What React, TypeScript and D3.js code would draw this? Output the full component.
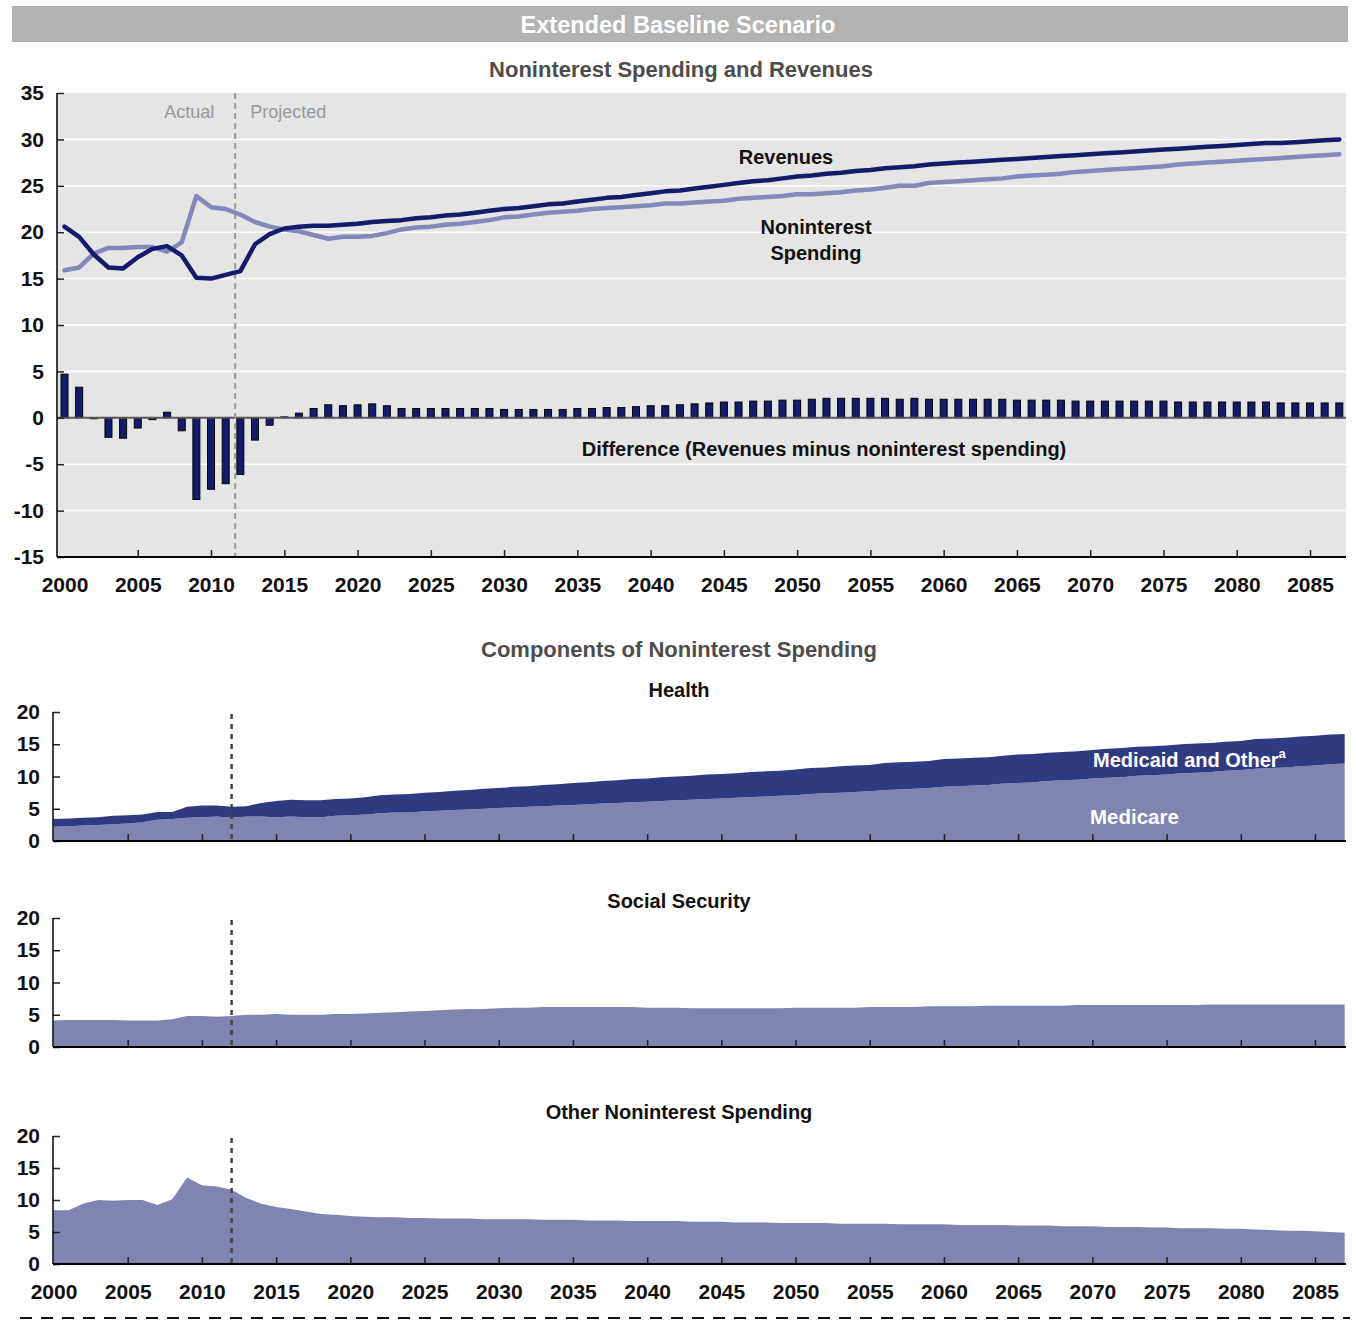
import React, { useRef, useEffect } from "react";
import * as d3 from "d3";

// years 2000..2087
const years = d3.range(2000, 2088);
const yearTicks = d3.range(2000, 2086, 5);

// Noninterest spending and revenues, percent of GDP
const revenues = [
  20.6, 19.5, 17.6, 16.2, 16.1, 17.3, 18.2, 18.5, 17.5, 15.1,
  15.0, 15.4, 15.8, 18.7, 19.8, 20.4, 20.6, 20.7, 20.7, 20.8,
  20.9, 21.1, 21.2, 21.3, 21.5, 21.6, 21.8, 21.9, 22.1, 22.3,
  22.5, 22.6, 22.8, 23.0, 23.1, 23.3, 23.5, 23.7, 23.8, 24.0,
  24.2, 24.4, 24.5, 24.7, 24.9, 25.1, 25.3, 25.5, 25.6, 25.8,
  26.0, 26.1, 26.3, 26.4, 26.6, 26.7, 26.9, 27.0, 27.1, 27.3,
  27.4, 27.5, 27.6, 27.7, 27.8, 27.9, 28.0, 28.1, 28.2, 28.3,
  28.4, 28.5, 28.6, 28.7, 28.8, 28.9, 29.0, 29.1, 29.2, 29.3,
  29.4, 29.5, 29.6, 29.6, 29.7, 29.8, 29.9, 30.0,
];
const spending = [
  15.9, 16.2, 17.7, 18.3, 18.3, 18.4, 18.4, 17.9, 18.9, 23.9,
  22.7, 22.5, 21.9, 21.1, 20.6, 20.3, 20.1, 19.7, 19.3, 19.5,
  19.5, 19.6, 19.9, 20.3, 20.5, 20.6, 20.8, 20.9, 21.1, 21.3,
  21.6, 21.7, 21.9, 22.1, 22.2, 22.3, 22.5, 22.6, 22.7, 22.8,
  22.9, 23.1, 23.1, 23.2, 23.3, 23.4, 23.6, 23.7, 23.8, 23.9,
  24.1, 24.1, 24.2, 24.3, 24.5, 24.6, 24.8, 25.0, 25.0, 25.3,
  25.4, 25.5, 25.6, 25.7, 25.8, 26.0, 26.1, 26.2, 26.3, 26.5,
  26.6, 26.7, 26.8, 26.9, 27.0, 27.1, 27.3, 27.4, 27.5, 27.6,
  27.7, 27.8, 27.9, 28.0, 28.1, 28.2, 28.3, 28.4,
];
const difference = [
  4.7, 3.3, -0.1, -2.1, -2.2, -1.1, -0.2, 0.6, -1.4, -8.8,
  -7.7, -7.1, -6.1, -2.4, -0.8, 0.1, 0.5, 1.0, 1.4, 1.3,
  1.4, 1.5, 1.3, 1.0, 1.0, 1.0, 1.0, 1.0, 1.0, 1.0,
  0.9, 0.9, 0.9, 0.9, 0.9, 1.0, 1.0, 1.1, 1.1, 1.2,
  1.3, 1.3, 1.4, 1.5, 1.6, 1.7, 1.7, 1.8, 1.8, 1.9,
  1.9, 2.0, 2.1, 2.1, 2.1, 2.1, 2.1, 2.0, 2.1, 2.0,
  2.0, 2.0, 2.0, 2.0, 2.0, 1.9, 1.9, 1.9, 1.9, 1.8,
  1.8, 1.8, 1.8, 1.8, 1.8, 1.8, 1.7, 1.7, 1.7, 1.7,
  1.7, 1.7, 1.7, 1.6, 1.6, 1.6, 1.6, 1.6,
];

// Components of noninterest spending
const medicare = [
  2.2, 2.3, 2.4, 2.5, 2.6, 2.7, 2.9, 3.3, 3.4, 3.6,
  3.7, 3.8, 3.6, 3.8, 3.8, 3.7, 3.8, 3.7, 3.7, 3.9,
  4.0, 4.1, 4.3, 4.4, 4.4, 4.6, 4.7, 4.8, 4.9, 5.0,
  5.1, 5.2, 5.3, 5.4, 5.5, 5.6, 5.7, 5.8, 5.9, 6.0,
  6.1, 6.2, 6.3, 6.4, 6.5, 6.6, 6.7, 6.8, 6.9, 7.0,
  7.1, 7.3, 7.4, 7.5, 7.6, 7.7, 7.9, 8.0, 8.1, 8.2,
  8.4, 8.5, 8.6, 8.7, 8.9, 9.0, 9.1, 9.3, 9.4, 9.5,
  9.7, 9.8, 9.9, 10.1, 10.2, 10.3, 10.5, 10.6, 10.7, 10.9,
  11.0, 11.2, 11.3, 11.4, 11.6, 11.7, 11.9, 12.0,
];
const medicaidOther = [
  1.2, 1.2, 1.2, 1.2, 1.3, 1.3, 1.2, 1.2, 1.1, 1.7,
  1.8, 1.7, 1.7, 1.6, 2.1, 2.5, 2.6, 2.6, 2.6, 2.6,
  2.6, 2.7, 2.8, 2.8, 2.9, 2.9, 2.9, 3.0, 3.0, 3.1,
  3.1, 3.2, 3.2, 3.3, 3.3, 3.4, 3.4, 3.5, 3.5, 3.6,
  3.6, 3.7, 3.7, 3.7, 3.8, 3.8, 3.8, 3.9, 3.9, 3.9,
  4.0, 4.0, 4.0, 4.1, 4.1, 4.1, 4.2, 4.2, 4.2, 4.2,
  4.3, 4.3, 4.3, 4.3, 4.3, 4.4, 4.4, 4.4, 4.4, 4.4,
  4.4, 4.5, 4.5, 4.5, 4.5, 4.5, 4.5, 4.5, 4.5, 4.5,
  4.5, 4.6, 4.6, 4.6, 4.6, 4.6, 4.6, 4.6,
];
const socialSecurity = [
  4.1, 4.2, 4.2, 4.2, 4.2, 4.1, 4.1, 4.1, 4.3, 4.8,
  4.8, 4.7, 4.8, 5.0, 5.0, 5.1, 5.0, 5.0, 5.0, 5.1,
  5.1, 5.2, 5.3, 5.4, 5.5, 5.6, 5.7, 5.8, 5.9, 5.9,
  6.0, 6.1, 6.1, 6.2, 6.2, 6.2, 6.2, 6.2, 6.2, 6.2,
  6.1, 6.1, 6.1, 6.0, 6.0, 6.0, 6.0, 6.0, 6.0, 6.0,
  6.1, 6.1, 6.1, 6.1, 6.1, 6.2, 6.2, 6.2, 6.2, 6.3,
  6.3, 6.3, 6.3, 6.4, 6.4, 6.4, 6.4, 6.4, 6.4, 6.5,
  6.5, 6.5, 6.5, 6.5, 6.5, 6.5, 6.5, 6.5, 6.6, 6.6,
  6.6, 6.6, 6.6, 6.6, 6.6, 6.6, 6.6, 6.6,
];
const otherSpending = [
  8.4, 8.4, 9.4, 10.0, 9.9, 10.0, 10.0, 9.2, 10.1, 13.5,
  12.3, 12.1, 11.6, 10.3, 9.4, 8.9, 8.6, 8.2, 7.8, 7.7,
  7.5, 7.4, 7.3, 7.3, 7.2, 7.2, 7.1, 7.1, 7.1, 7.0,
  7.0, 7.0, 7.0, 6.9, 6.9, 6.9, 6.8, 6.8, 6.8, 6.7,
  6.7, 6.7, 6.7, 6.6, 6.6, 6.6, 6.5, 6.5, 6.5, 6.4,
  6.4, 6.4, 6.4, 6.3, 6.3, 6.3, 6.3, 6.2, 6.2, 6.2,
  6.2, 6.1, 6.1, 6.1, 6.1, 6.0, 6.0, 6.0, 5.9, 5.9,
  5.9, 5.8, 5.8, 5.8, 5.7, 5.7, 5.6, 5.6, 5.6, 5.5,
  5.5, 5.4, 5.3, 5.2, 5.2, 5.1, 5.0, 4.9,
];

const FONT = "'Liberation Sans', Arial, Helvetica, sans-serif";
const NAVY = "#141b6b";
const LAVENDER = "#8387ba";
const AREA_DARK = "#2f3a80";
const AREA_LIGHT = "#8084b0";

const App = () => {
  const svgRef = useRef(null);

  useEffect(() => {
    const svg = d3.select(svgRef.current);
    svg.selectAll("*").remove();
    svg.attr("font-family", FONT);

    const centerText = (g, x, y, txt, size, fill = "#111", weight = "bold", anchor = "middle") =>
      g.append("text")
        .attr("x", x)
        .attr("y", y)
        .attr("text-anchor", anchor)
        .attr("font-size", size)
        .attr("font-weight", weight)
        .attr("fill", fill)
        .text(txt);

    // Header band
    svg.append("rect")
      .attr("x", 12).attr("y", 6)
      .attr("width", 1336).attr("height", 36)
      .attr("fill", "#b3b3b3");
    centerText(svg, 678, 32.5, "Extended Baseline Scenario", 23.5, "#fff");

    // ---------- Top panel: noninterest spending and revenues ----------
    const top = svg.append("g");
    const left = 57, right = 1346;
    const x = d3.scaleLinear().domain([2000, 2085]).range([64.5, 1310]);
    const y = d3.scaleLinear().domain([-15, 35]).range([557, 93]);

    centerText(top, 681, 77, "Noninterest Spending and Revenues", 22, "#4d4d4d");

    top.append("rect")
      .attr("x", left).attr("y", y(35))
      .attr("width", right - left).attr("height", y(-15) - y(35))
      .attr("fill", "#e5e5e5");

    top.selectAll(".grid")
      .data(d3.range(-10, 35, 5))
      .join("line")
      .attr("class", "grid")
      .attr("x1", left).attr("x2", right)
      .attr("y1", (d) => y(d)).attr("y2", (d) => y(d))
      .attr("stroke", "#fff")
      .attr("stroke-width", 1.5);

    const barData = years.map((yr, i) => ({ yr, v: difference[i] }));
    top.selectAll(".bar")
      .data(barData)
      .join("rect")
      .attr("class", "bar")
      .attr("x", (d) => x(d.yr) - 3.5)
      .attr("width", 7)
      .attr("y", (d) => y(Math.max(0, d.v)))
      .attr("height", (d) => Math.abs(y(d.v) - y(0)))
      .attr("fill", NAVY)
      .attr("stroke", "#000")
      .attr("stroke-width", 1);

    top.append("line")
      .attr("x1", left).attr("x2", right)
      .attr("y1", y(0)).attr("y2", y(0))
      .attr("stroke", "#555").attr("stroke-width", 2);

    // actual / projected divider
    top.append("line")
      .attr("x1", x(2011.65)).attr("x2", x(2011.65))
      .attr("y1", y(35)).attr("y2", y(-15))
      .attr("stroke", "#999").attr("stroke-width", 2)
      .attr("stroke-dasharray", "6,4");
    centerText(top, x(2011.65) - 21, 117.5, "Actual", 18, "#999", "normal", "end");
    centerText(top, x(2011.65) + 15, 117.5, "Projected", 18, "#999", "normal", "start");

    const line = (vals) =>
      d3.line()
        .x((d, i) => x(years[i]))
        .y((d) => y(d))(vals);

    top.append("path")
      .attr("d", line(spending))
      .attr("fill", "none").attr("stroke", LAVENDER)
      .attr("stroke-width", 4.5).attr("stroke-linejoin", "round").attr("stroke-linecap", "round");
    top.append("path")
      .attr("d", line(revenues))
      .attr("fill", "none").attr("stroke", NAVY)
      .attr("stroke-width", 4.5).attr("stroke-linejoin", "round").attr("stroke-linecap", "round");

    centerText(top, 786, 164, "Revenues", 20);
    centerText(top, 816, 234, "Noninterest", 20);
    centerText(top, 816, 260, "Spending", 20);
    centerText(top, 824, 456, "Difference (Revenues minus noninterest spending)", 20);

    // axes
    const plainNum = (d) => String(d); // hyphen minus, as in the original
    const yAxis = top.append("g")
      .attr("transform", `translate(${left},0)`)
      .call(d3.axisLeft(y).tickValues(d3.range(-15, 36, 5)).tickFormat(plainNum)
        .tickSizeInner(-7).tickSizeOuter(0).tickPadding(13));
    yAxis.select(".domain").remove();
    top.append("line")
      .attr("x1", left).attr("x2", left)
      .attr("y1", y(35)).attr("y2", y(-15))
      .attr("stroke", "#000").attr("stroke-width", 1.5);

    const xAxis = top.append("g")
      .attr("transform", `translate(0,${y(-15)})`)
      .call(d3.axisBottom(x).tickValues(yearTicks).tickFormat(plainNum)
        .tickSizeInner(-7).tickSizeOuter(0).tickPadding(20));
    xAxis.select(".domain").remove();
    top.append("line")
      .attr("x1", left).attr("x2", right)
      .attr("y1", y(-15)).attr("y2", y(-15))
      .attr("stroke", "#000").attr("stroke-width", 2);

    // ---------- Components ----------
    centerText(svg, 679, 657, "Components of Noninterest Spending", 22, "#4d4d4d");

    const xb = d3.scaleLinear().domain([2000, 2085]).range([53.5, 1315]);
    const bLeft = 53, bRight = 1346;

    const panel = (yTop, yBottom, title, titleY, layers, showYears) => {
      const g = svg.append("g");
      const yb = d3.scaleLinear().domain([0, 20]).range([yBottom, yTop]);
      centerText(g, 679, titleY, title, 20);

      const rows = years.map((yr, i) => {
        const r = { yr };
        layers.forEach((l) => (r[l.key] = l.values[i]));
        return r;
      });
      const stacked = d3.stack().keys(layers.map((l) => l.key))(rows);
      const area = d3.area()
        .x((d) => xb(d.data.yr))
        .y0((d) => yb(d[0]))
        .y1((d) => yb(d[1]));
      g.selectAll(".layer")
        .data(stacked)
        .join("path")
        .attr("class", "layer")
        .attr("d", area)
        .attr("fill", (d, i) => layers[i].color);

      g.append("line")
        .attr("x1", xb(2012)).attr("x2", xb(2012))
        .attr("y1", yTop + 2).attr("y2", yBottom)
        .attr("stroke", "#444").attr("stroke-width", 2.5)
        .attr("stroke-dasharray", "5,5");

      const ya = g.append("g")
        .attr("transform", `translate(${bLeft},0)`)
        .call(d3.axisLeft(yb).tickValues([0, 5, 10, 15, 20]).tickFormat(plainNum)
          .tickSizeInner(-7).tickSizeOuter(0).tickPadding(13));
      ya.select(".domain").remove();
      g.append("line")
        .attr("x1", bLeft).attr("x2", bLeft)
        .attr("y1", yTop).attr("y2", yBottom)
        .attr("stroke", "#000").attr("stroke-width", 1.5);

      const xa = g.append("g")
        .attr("transform", `translate(0,${yBottom})`)
        .call(d3.axisBottom(xb).tickValues(yearTicks)
          .tickFormat(showYears ? plainNum : () => "")
          .tickSizeInner(-7).tickSizeOuter(0).tickPadding(20));
      xa.select(".domain").remove();
      g.append("line")
        .attr("x1", bLeft).attr("x2", bRight)
        .attr("y1", yBottom).attr("y2", yBottom)
        .attr("stroke", "#000").attr("stroke-width", 2);
      return g;
    };

    const health = panel(712, 841, "Health", 697, [
      { key: "medicare", values: medicare, color: AREA_LIGHT },
      { key: "medicaidOther", values: medicaidOther, color: AREA_DARK },
    ], false);
    const mo = centerText(health, 1093, 767, "Medicaid and Other", 20, "#fff", "bold", "start");
    mo.append("tspan").attr("font-size", 13).attr("dy", -9).text("a");
    centerText(health, 1090, 824, "Medicare", 20.5, "#fff", "bold", "start");

    panel(918, 1047, "Social Security", 908, [
      { key: "ss", values: socialSecurity, color: AREA_LIGHT },
    ], false);

    panel(1136, 1264, "Other Noninterest Spending", 1119, [
      { key: "other", values: otherSpending, color: AREA_LIGHT },
    ], true);

    // common tick styling
    svg.selectAll(".tick text")
      .attr("font-family", FONT)
      .attr("font-size", 21)
      .attr("font-weight", "bold")
      .attr("fill", "#111");
    svg.selectAll(".tick line")
      .attr("stroke", "#222")
      .attr("stroke-width", 1.5);
    // no tick marks at the 2000 corner
    svg.selectAll(".tick")
      .filter((d) => d === 2000)
      .select("line")
      .remove();

    // bottom dashed rule
    svg.append("line")
      .attr("x1", 20).attr("x2", 1350)
      .attr("y1", 1318).attr("y2", 1318)
      .attr("stroke", "#111").attr("stroke-width", 2)
      .attr("stroke-dasharray", "12,9");
  }, []);

  return (
    <svg
      ref={svgRef}
      width={1356}
      height={1320}
      style={{ position: "absolute", left: 0, top: 0, background: "#fff" }}
    />
  );
};

export default App;
